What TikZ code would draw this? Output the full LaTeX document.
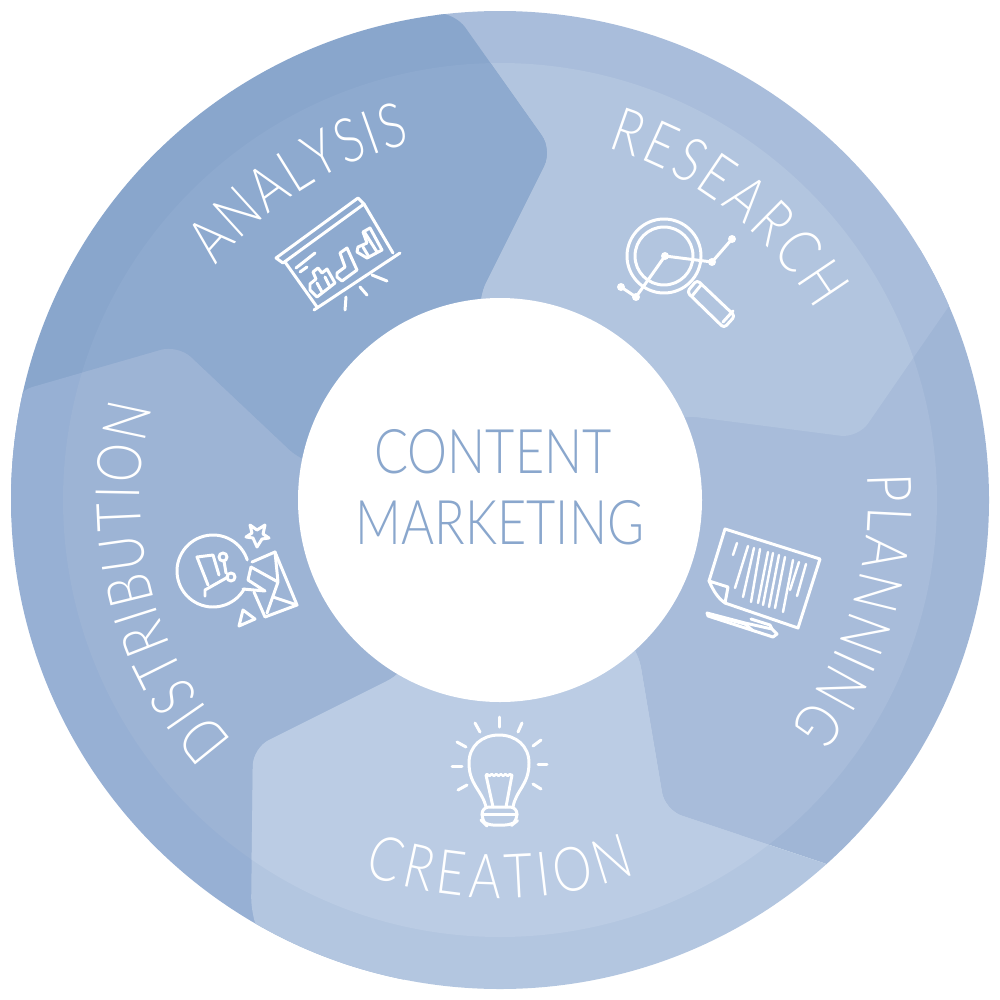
\documentclass[tikz,border=0pt]{standalone}
\usepackage{fontspec}
\usetikzlibrary{decorations.text,decorations.pathmorphing}
\newfontfamily\hubfont[FakeStretch=.82]{Lato Light}
\newfontfamily\rimfont[FakeStretch=.8]{Lato Light}
\newcommand{\labelfont}{\rimfont\fontsize{17.5}{19}\selectfont}
\definecolor{researchring}{HTML}{A9BDDB}
\definecolor{researchfill}{HTML}{B2C5DF}
\definecolor{planningring}{HTML}{A0B6D6}
\definecolor{planningfill}{HTML}{A8BCDA}
\definecolor{analysisring}{HTML}{89A6CC}
\definecolor{analysisfill}{HTML}{8EAACF}
\definecolor{distribring}{HTML}{97B0D4}
\definecolor{distribfill}{HTML}{9DB4D5}
\definecolor{creationring}{HTML}{B3C6E0}
\definecolor{creationfill}{HTML}{BBCCE4}
\definecolor{hubtext}{HTML}{8AA7CD}
\tikzset{
  segment/.style 2 args={fill=#1,rounded corners=5pt,
    path picture={\fill[#2] (hub) circle (437);}},
  arclabel/.style={decorate,decoration={text along path,
    text={|\labelfont\color{white}|#1},text align={fit to path}}},
  iconline/.style={draw=white,line width=.85pt,line join=round,line cap=round},
  dotfill/.style={fill=white,draw=none},
  hublabel/.style={text=hubtext,inner sep=0pt,font=\hubfont\fontsize{17.5}{19}\selectfont}
}
\begin{document}
\begin{tikzpicture}[x=0.01cm,y=-0.01cm]
\useasboundingbox (0,0) rectangle (1000,1000);
\coordinate (hub) at (500,500);
%% wheel
\begin{scope}
\clip (hub) circle (489);
\path[segment={planningring}{planningfill}] (500,500) -- (1000,200) -- (1100,1000) -- (1000,922) -- (665,810) -- (638,650) -- cycle;
\path[segment={researchring}{researchfill}] (500,500) -- (430,-20) -- (1100,-20) -- (1000,232) -- (858,438) -- (680,415) -- cycle;
\path[segment={analysisring}{analysisfill}] (500,500) -- (478,298) -- (552,150) -- (455,13) -- (300,13) -- (-50,13) -- (-50,520) -- cycle;
\path[segment={distribring}{distribfill}] (500,500) -- (302,462) -- (178,345) -- (15,392) -- (-30,1000) -- (400,1000) -- cycle;
\path[segment={creationring}{creationfill}] (500,500) -- (403,673) -- (253,748) -- (251,915) -- (300,1030) -- (1000,1030) -- (1000,922) -- (665,810) -- (638,650) -- cycle;
\end{scope}
\fill[white] (hub) circle (202);
%% centre text
\node[hublabel] (content) at (493,452) {CONTENT};
\node[hublabel] (marketing) at (500,523) {MARKETING};
%% labels along the rim
\path[arclabel=ANALYSIS] (hub) ++(-140.5:368) arc[start angle=-140.5,end angle=-104,radius=368];
\path[arclabel=RESEARCH] (hub) ++(-73:368) arc[start angle=-73,end angle=-31,radius=368];
\path[arclabel=PLANNING] (hub) ++(-4:368) arc[start angle=-4,end angle=38,radius=368];
\path[arclabel=CREATION] (hub) ++(110:398) arc[start angle=110,end angle=70,radius=398];
\path[arclabel=DISTRIBUTION] (hub) ++(138:360) arc[start angle=138,end angle=195,radius=360];
%% analysis icon
\draw[iconline] (276,258) -- (358,198) -- (364,204) -- (283,263) -- cycle;
\draw[iconline] (314,310) -- (400,253);
\draw[iconline] (285,262) -- (317,307) (364,204) -- (393,253);
\draw[iconline] (346,297) -- (345,310) (360,287) -- (367,295) (372,275) -- (387,281);
\draw[iconline] (296,268) -- (315,253) (300,272) -- (307,267);
\draw[iconline] (310,290) -- (317,297) -- (335,283) -- (327,269) -- (322,273) -- (318,268) -- (313,272) -- (316,279) -- (310,284) -- cycle;
\draw[iconline] (317,283) -- (322,292) (325,277) -- (330,287);
\draw[iconline] (337,277) -- (342,281) -- (357,270) -- (347,248) -- (340,253) -- (345,267) -- (337,273) -- cycle;
\draw[iconline] (357,252) -- (367,258) -- (382,250) -- (370,228) -- (363,232) -- (367,243) -- (358,247) -- cycle;
\draw[iconline] (363,247) -- (369,257) (365,233) -- (377,252);
%% research icon
\draw[iconline] (664,256) circle (37) (664,256) circle (29);
\draw[iconline] (621,287) -- (636,297) -- (665,256) -- (712,262) -- (732,239);
\foreach \dotx/\doty in {621/287,636/297,665/256,712/262,732/239} {
  \fill[dotfill] (\dotx,\doty) circle (4);
}
\draw[iconline,rounded corners=1pt] (697,280) -- (735,316) -- (724,328) -- (687,292) -- cycle;
\draw[iconline] (701,285) -- (692,296) (733,311) -- (723,322);
%% planning icon
\draw[iconline] (709,581) -- (725,529) -- (820,559) -- (798,628) -- (725,603);
\draw[iconline] (709,581) .. controls (714,592) and (718,598) .. (725,603) -- (728,587) -- cycle;
\foreach \topx/\topy/\botx/\boty in {737/543/733/555,748/546/735/588,754/548/743/597,760/549/751/602,768/552/758/603,773/553/763/605,779/555/769/607,785/557/775/608,793/560/783/612,799/562/790/590,806/564/797/596} {
  \draw[iconline,line width=.7pt] (\topx,\topy) -- (\botx,\boty);
}
\draw[iconline] (707,613) -- (745,623) -- (772,629) -- (777,634) -- (773,637) -- (708,616) -- cycle;
\draw[iconline] (751,619) -- (770,625) -- (772,629) (718,617) -- (745,624) -- (752,630);
%% creation icon
\draw[iconline] (486,807) .. controls (482,790) and (469,785) .. (469,763) .. controls (469,746) and (482,735) .. (499,735) .. controls (516,735) and (529,746) .. (529,763) .. controls (529,785) and (516,790) .. (513,807);
\draw[iconline,rounded corners=2pt] (482,807) -- (517,807) -- (517,821) -- (512,825) -- (486,825) -- (482,821) -- cycle;
\draw[iconline] (482,814) -- (517,814);
\draw[iconline] (493,807) -- (486,775) (506,807) -- (512,775);
\draw[iconline,line width=.7pt,decorate,decoration={zigzag,amplitude=.3pt,segment length=1.3pt}] (486,775) -- (512,775);
\foreach \rayx/\rayy/\rayu/\rayv in {499/717/499/727,475/723/480/732,522/723/518/732,457/742/466/747,541/740/533/746,452/766/462/766,547/764/538/764,458/790/467/785,541/789/533/784} {
  \draw[iconline] (\rayx,\rayy) -- (\rayu,\rayv);
}
%% distribution icon
\draw[iconline] (213,571) ++(30:36) arc[start angle=30,end angle=342,radius=36];
\draw[iconline] (252,562) -- (275,552) -- (297,605) -- (265,617) -- (254,592);
\draw[iconline] (251,567) -- (278,582) -- (267,613) (275,552) -- (278,582) (273,597) -- (297,605);
\draw[iconline] (243,589) -- (265,591) -- (248,580) -- (251,567);
\draw[iconline] (208,585) -- (197,557) -- (213,555) -- (219,575);
\draw[iconline] (205,596) -- (205,590) -- (228,577);
\draw[iconline] (231,577) circle (4) (223,557) circle (4) (226,573) -- (224,561);
\draw[iconline] (250,525) -- (257,530) -- (265,525) -- (263,534) -- (269,538) -- (262,539) -- (257,547) -- (253,538) -- (246,537) -- (252,533) -- cycle;
\draw[iconline] (243,610) -- (255,619) -- (239,626) -- cycle;
\end{tikzpicture}
\end{document}
